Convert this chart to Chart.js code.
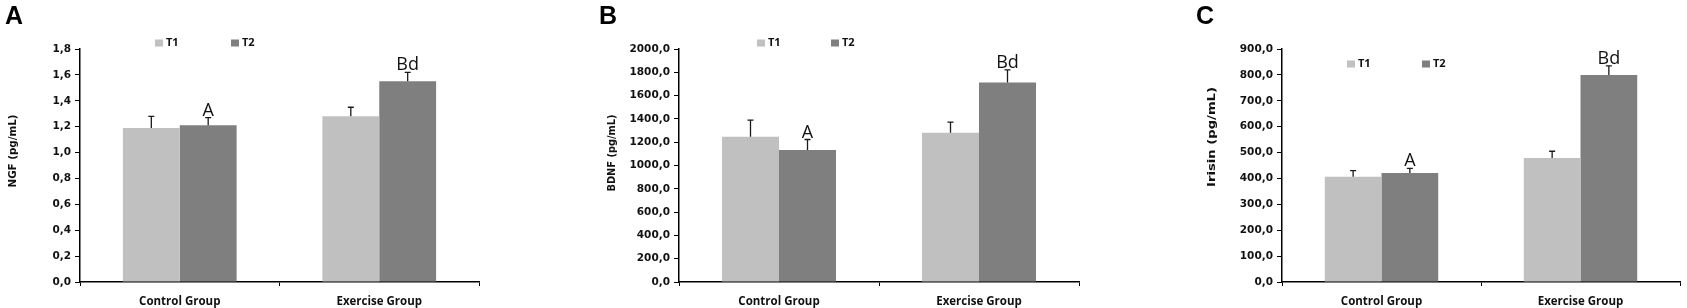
<!DOCTYPE html>
<html>
<head>
<meta charset="utf-8">
<script src="https://cdn.jsdelivr.net/npm/chart.js@4.4.1/dist/chart.umd.min.js"></script>
<style>
    html, body { margin: 0; padding: 0; background: #fff; }
    body { width: 1687px; height: 308px; position: relative; overflow: hidden; }
    canvas { position: absolute; top: 0; }
</style>
</head>
<body>
<canvas id="ngf-canvas" width="540" height="308" style="left:0px"></canvas>
<canvas id="bdnf-canvas" width="540" height="308" style="left:595px"></canvas>
<canvas id="irisin-canvas" width="495" height="308" style="left:1192px"></canvas>
<script>
const groups = ['Control Group', 'Exercise Group'];
const seriesLabels = ['T1', 'T2'];
const seriesColors = ['#c0c0c0', '#7f7f7f'];

// NGF (pg/mL)
const ngfT1 = [1.19, 1.28];
const ngfT2 = [1.21, 1.55];
const ngfT1Err = [0.09, 0.07];
const ngfT2Err = [0.06, 0.07];

// BDNF (pg/mL)
const bdnfT1 = [1246, 1281];
const bdnfT2 = [1134, 1713];
const bdnfT1Err = [144, 91];
const bdnfT2Err = [89, 108];

// Irisin (pg/mL)
const irisinT1 = [407, 479];
const irisinT2 = [421, 800];
const irisinT1Err = [23, 26];
const irisinT2Err = [18, 35];

// significance letters over the T2 bars
const t2Letters = ['A', 'Bd'];

// upward error bars + letters
const errorBars = {
    id: 'errorBars',
    afterDatasetsDraw(chart) {
        const ctx = chart.ctx;
        const yScale = chart.scales.y;
        chart.data.datasets.forEach((ds, i) => {
            const meta = chart.getDatasetMeta(i);
            meta.data.forEach((bar, j) => {
                const top = yScale.getPixelForValue(ds.data[j] + ds.errors[j]);
                ctx.save();
                ctx.strokeStyle = '#1a1a1a';
                ctx.lineWidth = 1.3;
                ctx.beginPath();
                ctx.moveTo(bar.x, bar.y);
                ctx.lineTo(bar.x, top);
                ctx.moveTo(bar.x - 3, top);
                ctx.lineTo(bar.x + 3, top);
                ctx.stroke();
                if (ds.letters && ds.letters[j]) {
                    ctx.font = '18px "Open Sans"';
                    ctx.fillStyle = '#111';
                    ctx.textAlign = 'center';
                    ctx.textBaseline = 'alphabetic';
                    ctx.fillText(ds.letters[j], bar.x, top - 2);
                }
                ctx.restore();
            });
        });
    }
};

// small legend sitting inside the plot, offsets from chartArea.left
const smallLegend = {
    id: 'smallLegend',
    afterDraw(chart, args, opts) {
        const ctx = chart.ctx;
        const left = chart.chartArea.left;
        ctx.save();
        ctx.font = 'bold 11px "Open Sans"';
        ctx.textBaseline = 'middle';
        ctx.textAlign = 'left';
        chart.data.datasets.forEach((ds, i) => {
            const x = left + opts.x[i];
            ctx.fillStyle = ds.backgroundColor;
            ctx.fillRect(x, opts.y - 3.5, 8, 7);
            ctx.fillStyle = '#111';
            ctx.fillText(ds.label, x + 11, opts.y);
        });
        ctx.restore();
    }
};

// rotated y title, stretched to the measured length
const yTitle = {
    id: 'yTitle',
    afterDraw(chart, args, opts) {
        const ctx = chart.ctx;
        ctx.save();
        ctx.font = 'bold 10.5px "DejaVu Sans"';
        const w = ctx.measureText(opts.text).width;
        ctx.translate(opts.x, opts.y);
        ctx.rotate(-Math.PI / 2);
        ctx.scale(opts.length / w, 1);
        ctx.fillStyle = '#111';
        ctx.textAlign = 'center';
        ctx.textBaseline = 'middle';
        ctx.fillText(opts.text, 0, 0);
        ctx.restore();
    }
};

const commaTick = v => v.toFixed(1).replace('.', ',');

function buildPanel(canvasId, p) {
    const canvas = document.getElementById(canvasId);
    return new Chart(canvas, {
        type: 'bar',
        data: {
            labels: groups,
            datasets: [
                {
                    label: seriesLabels[0],
                    data: p.t1,
                    errors: p.t1Err,
                    backgroundColor: seriesColors[0],
                    barPercentage: 1,
                    categoryPercentage: 0.57
                },
                {
                    label: seriesLabels[1],
                    data: p.t2,
                    errors: p.t2Err,
                    letters: t2Letters,
                    backgroundColor: seriesColors[1],
                    barPercentage: 1,
                    categoryPercentage: 0.57
                }
            ]
        },
        options: {
            responsive: false,
            animation: false,
            devicePixelRatio: 1,
            layout: { padding: { left: p.padLeft, right: p.padRight, top: 0, bottom: 0 } },
            plugins: {
                legend: { display: false },
                tooltip: { enabled: false },
                title: {
                    display: true,
                    text: p.letter,
                    align: 'start',
                    color: '#000',
                    font: { family: 'Liberation Sans', size: 25, weight: 'bold', lineHeight: 1.2 },
                    padding: { top: 2, bottom: 17 }
                },
                smallLegend: p.legend,
                yTitle: p.yTitle
            },
            scales: {
                x: {
                    grid: { offset: true, drawOnChartArea: false, drawTicks: true, tickLength: 4, color: '#000' },
                    border: { color: '#000', width: 1.5 },
                    ticks: { color: '#111', padding: 9, font: { family: 'Open Sans', size: 11.5, weight: 'bold' } },
                    afterFit: s => { s.height = 26; }
                },
                y: {
                    min: 0,
                    max: p.max,
                    grid: { drawOnChartArea: false, drawTicks: true, tickLength: 5, color: '#000' },
                    border: { color: '#000', width: 1.5 },
                    ticks: {
                        stepSize: p.step,
                        color: '#111',
                        padding: 4,
                        font: { family: 'DejaVu Sans', size: 10.5, weight: 'bold' },
                        callback: commaTick
                    },
                    afterFit: s => { s.width = p.axisWidth; }
                }
            }
        },
        plugins: [errorBars, smallLegend, yTitle]
    });
}

buildPanel('ngf-canvas', {
    letter: 'A', t1: ngfT1, t2: ngfT2, t1Err: ngfT1Err, t2Err: ngfT2Err,
    max: 1.8, step: 0.2,
    padLeft: 5, padRight: 61, axisWidth: 75,
    legend: { x: [75, 151], y: 43 },
    yTitle: { text: 'NGF (pg/mL)', x: 13, y: 151, length: 73 }
});

buildPanel('bdnf-canvas', {
    letter: 'B', t1: bdnfT1, t2: bdnfT2, t1Err: bdnfT1Err, t2Err: bdnfT2Err,
    max: 2000, step: 200,
    padLeft: 4, padRight: 56, axisWidth: 80,
    legend: { x: [78, 152], y: 43 },
    yTitle: { text: 'BDNF (pg/mL)', x: 17, y: 153, length: 77 }
});

buildPanel('irisin-canvas', {
    letter: 'C', t1: irisinT1, t2: irisinT2, t1Err: irisinT1Err, t2Err: irisinT2Err,
    max: 900, step: 100,
    padLeft: 4, padRight: 7, axisWidth: 86,
    legend: { x: [65, 140], y: 64 },
    yTitle: { text: 'Irisin (pg/mL)', x: 20, y: 137, length: 100 }
});
</script>
</body>
</html>
